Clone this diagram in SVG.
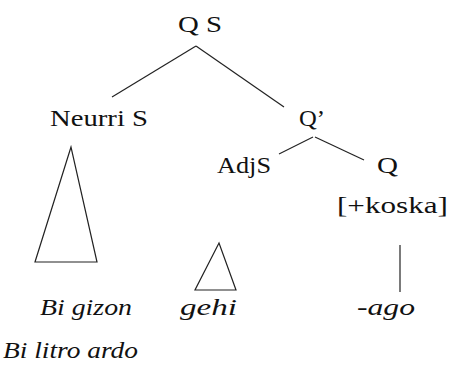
<svg xmlns="http://www.w3.org/2000/svg" width="450" height="365" viewBox="0 0 450 365">
<style>
text{font-family:"Liberation Serif","Times New Roman",serif;font-size:24px;fill:#111}
.it{font-style:italic}
.ln{stroke:#222;stroke-width:1.2;fill:none}
</style>
<rect width="450" height="365" fill="#fff"/>
<g id="connectors">
<line class="ln" x1="196" y1="46" x2="112" y2="97"/>
<line class="ln" x1="196" y1="46" x2="284" y2="107"/>
<line class="ln" x1="313" y1="137" x2="279" y2="154"/>
<line class="ln" x1="315" y1="137" x2="364" y2="160"/>
<line class="ln" x1="400" y1="245" x2="400" y2="292"/>
</g>
<g id="qs"><text x="178" y="32" textLength="44" lengthAdjust="spacingAndGlyphs">Q S</text></g>
<g id="neurri"><text x="50" y="126" textLength="98" lengthAdjust="spacingAndGlyphs">Neurri S</text></g>
<g id="qbar"><text x="299" y="126" textLength="26" lengthAdjust="spacingAndGlyphs">Q’</text></g>
<g id="adjs"><text x="217" y="173" textLength="54" lengthAdjust="spacingAndGlyphs">AdjS</text></g>
<g id="q"><text x="377" y="173" textLength="21" lengthAdjust="spacingAndGlyphs">Q</text></g>
<g id="koska"><text x="337" y="213" textLength="111" lengthAdjust="spacingAndGlyphs">[+koska]</text></g>
<g id="tri1"><polygon class="ln" points="71,147 35,262 97,262"/></g>
<g id="tri2"><polygon class="ln" points="219,243 195,290 236,290"/></g>
<g id="bigizon"><text class="it" x="40" y="315" textLength="92" lengthAdjust="spacingAndGlyphs">Bi gizon</text></g>
<g id="gehi"><text class="it" x="180" y="315" textLength="57" lengthAdjust="spacingAndGlyphs">gehi</text></g>
<g id="ago"><text class="it" x="357" y="315" textLength="58" lengthAdjust="spacingAndGlyphs">-ago</text></g>
<g id="bilitro"><text class="it" x="3" y="358" textLength="135" lengthAdjust="spacingAndGlyphs">Bi litro ardo</text></g>
</svg>
